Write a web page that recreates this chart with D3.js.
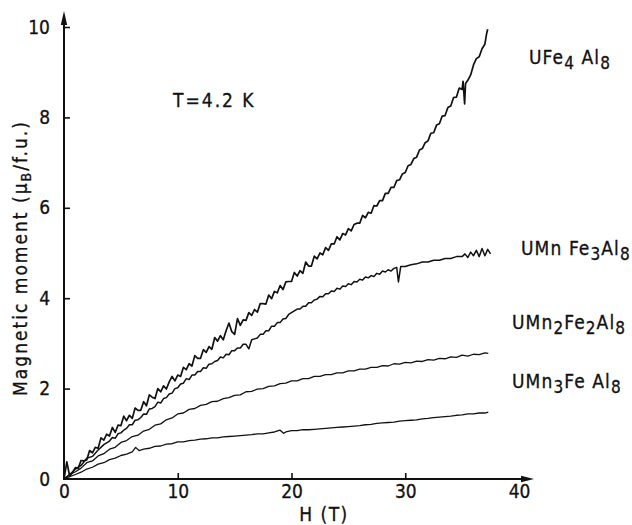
<!DOCTYPE html>
<html>
<head>
<meta charset="utf-8">
<script src="https://cdn.jsdelivr.net/npm/d3@7"></script>
<style>
  html, body { margin: 0; padding: 0; background: #fff; }
  svg { display: block; }
  text { font-family: "DejaVu Sans Condensed", "DejaVu Sans", sans-serif; fill: #111; stroke: #111; stroke-width: 0.3; }
</style>
</head>
<body>
<svg id="chart" width="632" height="525"></svg>
<script>
// Magnetisation curves at T = 4.2 K, field H in tesla, moment in μB per formula unit.
const fieldTicks = [0, 10, 20, 30, 40];
const momentTicks = [0, 2, 4, 6, 8, 10];
const seriesNames = ["UFe4 Al8", "UMn Fe3Al8", "UMn2Fe2Al8", "UMn3Fe Al8"];
const temperatureNote = "T=4.2 K";
const xTitle = "H (T)";

// [H, moment] pairs for each compound
const uFe4Al8 = [
  [0,0.00],[0.25,0.38],[0.5,0.06],[0.75,0.14],[1,0.25],[1.25,0.24],[1.5,0.41],[1.75,0.4],[2,0.42],[2.25,0.63],
  [2.5,0.58],[2.75,0.7],[3,0.68],[3.25,0.91],[3.5,0.86],[3.75,0.99],[4,0.95],[4.25,1.14],[4.5,1.03],[4.75,1.19],
  [5,1.18],[5.25,1.39],[5.5,1.29],[5.75,1.41],[6,1.34],[6.25,1.57],[6.5,1.52],[6.75,1.52],[7,1.71],[7.25,1.62],
  [7.5,1.86],[7.75,1.81],[8,1.78],[8.25,2.0],[8.5,1.93],[8.75,2.06],[9,1.99],[9.25,2.15],[9.5,2.27],[9.75,2.17],
  [10,2.3],[10.25,2.27],[10.5,2.47],[10.75,2.42],[11,2.55],[11.25,2.5],[11.5,2.73],[11.75,2.67],[12,2.67],[12.25,2.86],
  [12.5,2.8],[12.75,2.93],[13,2.87],[13.25,3.13],[13.5,3.05],[13.75,3.17],[14,3.08],[14.25,3.28],[14.5,3.45],[14.75,3.26],
  [15,3.2],[15.25,3.55],[15.5,3.4],[15.75,3.52],[16,3.51],[16.25,3.68],[16.5,3.62],[16.75,3.75],[17,3.69],[17.25,3.88],
  [17.5,3.88],[17.75,3.87],[18,4.07],[18.25,3.99],[18.5,4.15],[18.75,4.12],[19,4.28],[19.25,4.19],[19.5,4.36],[19.75,4.37],
  [20,4.37],[20.25,4.57],[20.5,4.49],[20.75,4.61],[21,4.55],[21.25,4.8],[21.5,4.71],[21.75,4.71],[22,4.93],[22.25,4.87],
  [22.5,5.0],[22.75,4.96],[23,5.12],[23.25,5.06],[23.5,5.2],[23.75,5.2],[24,5.36],[24.25,5.29],[24.5,5.43],[24.75,5.4],
  [25,5.54],[25.25,5.49],[25.5,5.63],[25.75,5.66],[26,5.66],[26.25,5.83],[26.5,5.78],[26.75,5.9],[27,5.88],[27.25,6.05],
  [27.5,6.04],[27.75,6.16],[28,6.16],[28.25,6.32],[28.5,6.32],[28.75,6.45],[29,6.45],[29.25,6.6],[29.5,6.62],[29.75,6.75],
  [30,6.78],[30.25,6.93],[30.5,6.96],[30.75,7.09],[31,7.12],[31.25,7.28],[31.5,7.31],[31.75,7.44],[32,7.48],[32.25,7.65],
  [32.5,7.66],[32.75,7.83],[33,7.86],[33.25,8.03],[33.5,8.04],[33.75,8.22],[34,8.25],[34.25,8.44],[34.5,8.45],[34.75,8.65],
  [35,8.62],[35.08,8.8],[35.15,8.55],[35.22,8.3],[35.3,8.75],[35.5,8.82],[35.75,8.94],[36,9.16],[36.25,9.3],[36.5,9.34],
  [36.75,9.52],[37,9.62],[37.15,9.85],[37.25,9.95]
];

const uMnFe3Al8 = [
  [0,0],[0.25,0.05],[0.5,0.1],[1,0.22],[1.5,0.3],[2,0.46],[2.5,0.5],[3,0.64],[3.5,0.76],[4,0.84],
  [4.25,0.92],[4.5,0.9],[4.75,1.0],[5,1.02],[5.25,1.08],[5.5,1.12],[5.75,1.2],[6,1.2],[6.25,1.3],[6.5,1.31],
  [6.75,1.36],[7,1.44],[7.25,1.43],[7.5,1.55],[7.75,1.56],[8,1.6],[8.25,1.7],[8.5,1.68],[8.75,1.78],[9,1.8],
  [9.25,1.88],[9.5,1.9],[9.75,2.0],[10,2.02],[10.25,2.1],[10.5,2.12],[10.75,2.22],[11,2.2],[11.25,2.3],[11.5,2.3],
  [11.75,2.38],[12,2.38],[12.25,2.46],[12.5,2.45],[12.75,2.54],[13,2.55],[13.25,2.6],[13.5,2.62],[13.75,2.7],[14,2.68],
  [14.25,2.76],[14.5,2.75],[14.75,2.84],[15,2.84],[15.25,2.9],[15.5,2.9],[15.75,2.98],[16,2.98],[16.25,2.88],[16.5,3.08],
  [16.75,3.1],[17,3.12],[17.25,3.2],[17.5,3.2],[17.75,3.28],[18,3.28],[18.25,3.38],[18.5,3.38],[18.75,3.46],[19,3.46],
  [19.25,3.54],[19.5,3.55],[19.75,3.64],[20,3.68],[20.25,3.72],[20.5,3.76],[20.75,3.76],[21,3.82],[21.25,3.82],[21.5,3.9],
  [21.75,3.9],[22,3.96],[22.25,3.98],[22.5,4.04],[22.75,4.03],[23,4.1],[23.25,4.1],[23.5,4.16],[23.75,4.15],[24,4.22],
  [24.25,4.2],[24.5,4.27],[24.75,4.26],[25,4.32],[25.25,4.3],[25.5,4.37],[25.75,4.36],[26,4.42],[26.25,4.4],[26.5,4.47],
  [26.75,4.45],[27,4.5],[27.25,4.48],[27.5,4.55],[27.75,4.53],[28,4.6],[28.25,4.58],[28.5,4.63],[28.75,4.6],[29,4.66],
  [29.25,4.68],[29.4,4.36],[29.6,4.7],[30,4.7],[30.5,4.74],[31,4.76],[31.5,4.8],[32,4.8],[32.5,4.84],
  [33,4.84],[33.5,4.88],[34,4.88],[34.5,4.92],[35,4.92],[35.25,4.98],[35.5,4.9],[35.75,5.02],[36,4.94],[36.25,5.06],
  [36.5,4.92],[36.75,5.1],[37,4.94],[37.25,5.08],[37.5,4.98]
];

const uMn2Fe2Al8 = [
  [0,0],[0.5,0.1],[1,0.16],[1.5,0.24],[2,0.36],[2.5,0.4],[3,0.51],[3.5,0.56],[4,0.66],[4.5,0.7],
  [5,0.81],[5.5,0.85],[6,0.94],[6.5,0.97],[7,1.06],[7.5,1.1],[8,1.19],[8.5,1.22],[9,1.31],[9.5,1.35],
  [10,1.44],[10.5,1.46],[11,1.54],[11.5,1.56],[12,1.63],[12.5,1.65],[13,1.71],[13.5,1.72],[14,1.78],[14.5,1.8],
  [15,1.85],[15.5,1.86],[16,1.93],[16.5,1.94],[17,1.99],[17.5,2.0],[18,2.05],[18.5,2.06],[19,2.11],[19.5,2.12],
  [20,2.17],[20.5,2.17],[21,2.22],[21.5,2.22],[22,2.27],[22.5,2.27],[23,2.31],[23.5,2.31],[24,2.35],[24.5,2.35],
  [25,2.39],[25.5,2.39],[26,2.43],[26.5,2.43],[27,2.47],[27.5,2.47],[28,2.51],[28.5,2.5],[29,2.55],[29.5,2.54],
  [30,2.58],[30.5,2.57],[31,2.61],[31.5,2.6],[32,2.64],[32.5,2.63],[33,2.67],[33.5,2.66],[34,2.7],[34.5,2.69],
  [35,2.74],[35.5,2.72],[36,2.76],[36.5,2.75],[37,2.79],[37.3,2.78]
];

const uMn3FeAl8 = [
  [0,0],[0.5,0.05],[1,0.1],[1.5,0.15],[2,0.22],[2.5,0.26],[3,0.33],[3.5,0.36],[4,0.43],[4.5,0.46],
  [5,0.52],[5.5,0.55],[6,0.6],[6.3,0.7],[6.6,0.63],[7,0.66],[7.5,0.68],[8,0.72],[8.5,0.73],[9,0.77],
  [9.5,0.78],[10,0.82],[10.5,0.82],[11,0.85],[11.5,0.86],[12,0.88],[12.5,0.89],[13,0.91],[13.5,0.91],[14,0.93],
  [14.5,0.94],[15,0.95],[15.5,0.96],[16,0.97],[16.5,0.98],[17,1.0],[17.5,1.0],[18,1.02],[18.5,1.04],[19,1.08],
  [19.3,1.01],[19.5,1.04],[20,1.07],[20.5,1.07],[21,1.09],[21.5,1.09],[22,1.1],[22.5,1.11],[23,1.12],[23.5,1.13],
  [24,1.14],[24.5,1.15],[25,1.16],[25.5,1.17],[26,1.18],[26.5,1.2],[27,1.21],[27.5,1.23],[28,1.24],[28.5,1.25],
  [29,1.26],[29.5,1.28],[30,1.29],[30.5,1.3],[31,1.31],[31.5,1.33],[32,1.34],[32.5,1.36],[33,1.37],[33.5,1.38],
  [34,1.39],[34.5,1.41],[35,1.42],[35.5,1.44],[36,1.44],[36.5,1.46],[37,1.46],[37.3,1.48]
];

const seriesData = [uFe4Al8, uMnFe3Al8, uMn2Fe2Al8, uMn3FeAl8];

const svg = d3.select("#chart");
const x = d3.scaleLinear().domain([0, 40]).range([64, 519]);
const y = d3.scaleLinear().domain([0, 10]).range([479, 27]);

// axes with inward ticks
const xAxis = svg.append("g")
  .attr("transform", `translate(0,${y(0)})`)
  .call(d3.axisBottom(x).tickValues(fieldTicks).tickSize(-6).tickSizeOuter(0).tickPadding(6));
const yAxis = svg.append("g")
  .attr("transform", `translate(${x(0)},0)`)
  .call(d3.axisLeft(y).tickValues(momentTicks).tickSize(-6).tickSizeOuter(0).tickPadding(14));

[xAxis, yAxis].forEach(g => {
  g.select(".domain").remove();
  g.selectAll(".tick line").attr("stroke", "#111").attr("stroke-width", 1.6);
  g.selectAll(".tick text").attr("font-size", 19).attr("fill", "#111")
    .style("font-family", '"DejaVu Sans Condensed", sans-serif');
});
yAxis.selectAll(".tick").filter(d => d === 0).select("line").remove();
xAxis.selectAll(".tick").filter(d => d === 0 || d === 40).select("line").remove();

// axis lines with arrowheads
svg.append("line").attr("x1", x(0)).attr("y1", y(0) + 1).attr("x2", x(0)).attr("y2", 20)
  .attr("stroke", "#111").attr("stroke-width", 2);
svg.append("path").attr("d", `M${x(0)},11 L${x(0) - 3.2},25 L${x(0) + 3.2},25 Z`).attr("fill", "#111");
svg.append("line").attr("x1", x(0) - 1).attr("y1", y(0)).attr("x2", 526).attr("y2", y(0))
  .attr("stroke", "#111").attr("stroke-width", 2);
svg.append("path").attr("d", `M534,${y(0)} L521,${y(0) - 3.2} L521,${y(0) + 3.2} Z`).attr("fill", "#111");

// curves
const line = d3.line().x(d => x(d[0])).y(d => y(d[1]));
const widths = [1.7, 1.5, 1.3, 1.3];
svg.append("g").selectAll("path").data(seriesData).join("path")
  .attr("d", line)
  .attr("fill", "none")
  .attr("stroke", "#111")
  .attr("stroke-width", (d, i) => widths[i])
  .attr("stroke-linejoin", "round");

// chemical formula labels: digits become subscripts
function writeFormula(textSel, str) {
  const parts = str.match(/\d+|[^\d]+/g);
  let lowered = false;
  parts.forEach(p => {
    const isSub = /^\d+$/.test(p);
    const t = textSel.append("tspan").text(p);
    if (isSub && !lowered) { t.attr("dy", 5).attr("font-size", 17); lowered = true; }
    else if (isSub) { t.attr("font-size", 17); }
    else if (lowered) { t.attr("dy", -5); lowered = false; }
  });
}
const labelPos = [[529, 64], [521, 255], [512, 329], [512, 388]];
seriesNames.forEach((name, i) => {
  const t = svg.append("text")
    .attr("x", labelPos[i][0]).attr("y", labelPos[i][1])
    .attr("font-size", 19).attr("letter-spacing", 1.1);
  writeFormula(t, name);
});

svg.append("text").attr("x", 173).attr("y", 107).attr("font-size", 19)
  .attr("letter-spacing", 2).text(temperatureNote);

svg.append("text").attr("x", 324).attr("y", 521).attr("text-anchor", "middle")
  .attr("font-size", 19).attr("letter-spacing", 1.5).text(xTitle);

// rotated y title with μB subscript
const yt = svg.append("text")
  .attr("transform", "translate(27,258) rotate(-90)")
  .attr("text-anchor", "middle").attr("font-size", 19).attr("letter-spacing", 2);
yt.append("tspan").text("Magnetic moment (μ");
yt.append("tspan").attr("dy", 4).attr("font-size", 14).text("B");
yt.append("tspan").attr("dy", -4).text("/f.u.)");
</script>
</body>
</html>
